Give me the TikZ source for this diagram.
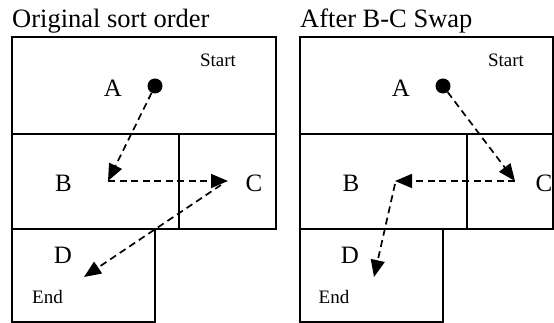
\documentclass[tikz,border=0pt]{standalone}
\usepackage{fontspec}
\setmainfont{Liberation Serif}
\usetikzlibrary{arrows.meta}
\begin{document}
\begin{tikzpicture}[x=1pt,y=-1pt,
  cell/.style={draw,line width=1.5pt},
  lab/.style={font=\fontsize{25}{25}\selectfont,inner sep=0pt},
  small/.style={font=\fontsize{19}{19}\selectfont,inner sep=0pt},
  ttl/.style={font=\fontsize{26.5}{26.5}\selectfont,inner sep=0pt,anchor=base west},
  flow/.style={dashed,dash pattern=on 7pt off 4.5pt,line width=1.7pt,-{Triangle[length=17pt,width=14pt]}},
  dot/.style={circle,fill=black,minimum size=15pt,inner sep=0pt}]
\useasboundingbox (0,0) rectangle (554,323);
% ---------- left panel ----------
\node[ttl] (t1) at (12,27.5) {Original sort order};
\draw[cell] (12,37) rectangle (276,134);
\draw[cell] (12,134) rectangle (179,229);
\draw[cell] (179,134) rectangle (276,229);
\draw[cell] (12,229) rectangle (155,322);
\node[lab] (la) at (113,88) {A};
\node[lab] (lb) at (63.5,183) {B};
\node[lab] (lc) at (254,183) {C};
\node[lab] (ld) at (63,255) {D};
\node[small] (ls) at (218,60) {Start};
\node[small] (le) at (47.5,297) {End};
\node[dot] (d1) at (155,86) {};
\coordinate (b1) at (108,181);
\coordinate (c1) at (228,181);
\coordinate (c1s) at (221,185);
\coordinate (e1) at (84,277);
\draw[flow] (d1) -- (b1);
\draw[flow] (b1) -- (c1);
\draw[flow] (c1s) -- (e1);
% ---------- right panel ----------
\node[ttl] (t2) at (300,27.5) {After B-C Swap};
\draw[cell] (300,37) rectangle (553.2,134);
\draw[cell] (300,134) rectangle (467,229);
\draw[cell] (467,134) rectangle (553.2,229);
\draw[cell] (300,229) rectangle (443,322);
\node[lab] (ra) at (401,88) {A};
\node[lab] (rb) at (351,183) {B};
\node[lab] (rc) at (544,183) {C};
\node[lab] (rd) at (350,255) {D};
\node[small] (rs) at (506,60) {Start};
\node[small] (re) at (334,297) {End};
\node[dot] (d2) at (443,86) {};
\coordinate (c2) at (515,181);
\coordinate (b2) at (395,181);
\coordinate (b2s) at (395,184);
\coordinate (e2) at (374,277);
\draw[flow] (d2) -- (c2);
\draw[flow] (c2) -- (b2);
\draw[flow] (b2s) -- (e2);
\end{tikzpicture}
\end{document}
